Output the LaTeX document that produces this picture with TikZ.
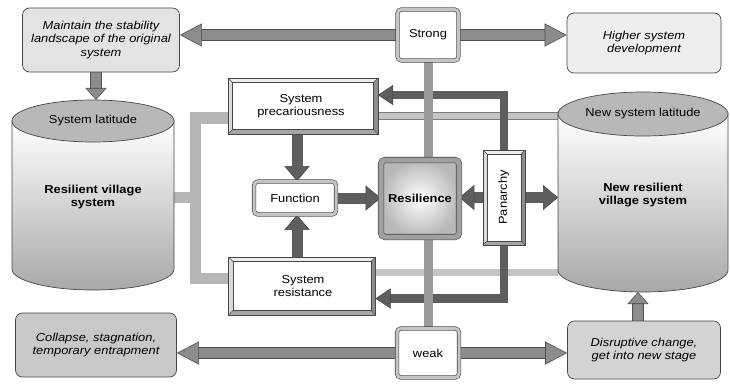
\documentclass[tikz,border=0pt]{standalone}
\usepackage{fontspec}
\setmainfont{Liberation Sans}[FakeStretch=1.12]
\usetikzlibrary{arrows.meta,calc}
\pgfdeclarelayer{background}
\pgfsetlayers{background,main}

\definecolor{edge}{HTML}{474747}
\definecolor{arrowmid}{HTML}{8C8C8C}
\definecolor{arrowedge}{HTML}{505050}
\definecolor{arrowdark}{HTML}{5E5E5E}
\definecolor{bandfill}{HTML}{C4C4C4}
\definecolor{bandedge}{HTML}{7C7C7C}
\definecolor{bracketgray}{HTML}{B6B6B6}
\definecolor{spinegray}{HTML}{9A9A9A}
\definecolor{capgray}{HTML}{B8B8B8}
\definecolor{cylbottom}{HTML}{A8A8A8}
\definecolor{ringgray}{HTML}{C4C4C4}
\definecolor{bevlight}{HTML}{EDEDED}
\definecolor{bevside}{HTML}{DADADA}
\definecolor{bevshade}{HTML}{8E8E8E}
\definecolor{bevbottom}{HTML}{A6A6A6}
\definecolor{maintfill}{HTML}{E3E3E3}
\definecolor{higherfill}{HTML}{EEEEEE}
\definecolor{collapsefill}{HTML}{C8C8C8}
\definecolor{disruptfill}{HTML}{D3D3D3}
\definecolor{resilframe}{HTML}{A0A0A0}
\definecolor{resilouter}{HTML}{B8B8B8}

% raised frame around a rectangular node: #1 node name, #2 bevel depth
\newcommand\drawbevel[2]{%
  \fill[bevlight] (#1.north west) -- (#1.north east) -- ($(#1.north east)+(-#2,#2)$) -- ($(#1.north west)+(#2,#2)$) -- cycle;
  \fill[bevside] (#1.north west) -- (#1.south west) -- ($(#1.south west)+(#2,-#2)$) -- ($(#1.north west)+(#2,#2)$) -- cycle;
  \fill[bevshade] (#1.north east) -- (#1.south east) -- ($(#1.south east)+(-#2,-#2)$) -- ($(#1.north east)+(-#2,#2)$) -- cycle;
  \fill[bevbottom] (#1.south west) -- (#1.south east) -- ($(#1.south east)+(-#2,-#2)$) -- ($(#1.south west)+(#2,-#2)$) -- cycle;
  \draw[edge, line width=0.6pt] (#1.north west) rectangle (#1.south east);
  \draw[edge, line width=0.5pt] ($(#1.north west)+(#2,#2)$) rectangle ($(#1.south east)+(-#2,-#2)$);
  \draw[edge, line width=0.4pt] (#1.north west) -- ++(#2,#2) (#1.north east) -- ++(-#2,#2)
    (#1.south east) -- ++(-#2,-#2) (#1.south west) -- ++(#2,-#2);
}

% upright cylinder filling the area of node #1: #2 x radius, #3 y radius of the end caps
\newcommand\drawcyl[3]{%
  \path[draw=edge, line width=0.7pt, top color=white, bottom color=cylbottom]
    ($(#1.north west)+(0,#3)$) -- ($(#1.south west)+(0,-#3)$)
    arc[start angle=180, end angle=360, x radius=#2pt, y radius=#3pt]
    -- ($(#1.north east)+(0,#3)$) -- cycle;
  \path[draw=edge, line width=0.7pt, fill=capgray] ($(#1.north)+(0,#3)$) ellipse[x radius=#2pt, y radius=#3pt];
}

\begin{document}
\begin{tikzpicture}[x=1pt, y=-1pt,
  font=\fontsize{11.5}{13.3}\selectfont,
  outcome/.style={draw=edge, line width=0.7pt, rounded corners=7pt, align=center,
    font=\fontsize{11.5}{13.3}\selectfont\itshape, inner sep=0pt},
  framebox/.style={draw=edge, line width=0.6pt, double=ringgray, double distance=3pt,
    fill=white, rounded corners=4pt, inner sep=0pt, align=center},
  bevelbox/.style={fill=white, inner sep=0pt, outer sep=0pt, align=center},
  cylarea/.style={inner sep=0pt, outer sep=0pt},
  bigarrow/.style={draw=arrowmid, line width=10pt,
    -{Triangle[length=22pt, width=23pt, fill=arrowmid, color=arrowedge, line width=0.6pt]},
    preaction={draw=arrowedge, line width=11.4pt, arrows=-, shorten >=20pt}},
  smallarrow/.style={draw=arrowmid, line width=10pt,
    -{Triangle[length=12pt, width=21pt, fill=arrowmid, color=arrowedge, line width=0.6pt]},
    preaction={draw=arrowedge, line width=11.4pt, arrows=-, shorten >=10pt}},
  darkarrow/.style={draw=arrowdark, line width=11pt,
    -{Triangle[length=15pt, width=25pt, fill=arrowdark, color=arrowdark!70!black, line width=0.5pt]}},
  elbowarrow/.style={draw=arrowdark, line width=8.5pt,
    -{Triangle[length=15pt, width=20pt, fill=arrowdark, color=arrowdark!70!black, line width=0.5pt]}},
  band/.style={draw=bandedge, line width=0.7pt, double=bandfill, double distance=6.5pt},
  bracket/.style={draw=bracketgray, line width=11pt},
  spine/.style={draw=spinegray, line width=9pt}
]
\useasboundingbox (0,0) rectangle (730,385);

% ---- cylinders ----
\node[cylarea, minimum width=162, minimum height=190] (lcyl) at (93,195) {};
\drawcyl{lcyl}{81}{21}
\node (lcap) at (93,121) {System latitude};
\node[font=\fontsize{11.5}{13.3}\selectfont\bfseries, align=center] (lbody) at (93,197) {Resilient village\\system};

\node[cylarea, minimum width=170, minimum height=200] (rcyl) at (643,192) {};
\drawcyl{rcyl}{85}{22}
\node (rcap) at (643,114) {New system latitude};
\node[font=\fontsize{11.5}{13.3}\selectfont\bfseries, align=center] (rbody) at (643,195) {New resilient\\village system};

% ---- outcome boxes ----
\node[outcome, fill=maintfill, minimum width=157, minimum height=64] (maint) at (101,40)
  {Maintain the stability\\landscape of the original\\system};
\node[outcome, fill=higherfill, minimum width=154, minimum height=60] (higher) at (644,43)
  {Higher system\\development};
\node[outcome, fill=collapsefill, minimum width=161, minimum height=64] (collapse) at (96,345)
  {Collapse, stagnation,\\temporary entrapment};
\node[outcome, fill=disruptfill, minimum width=153, minimum height=58] (disrupt) at (644,350)
  {Disruptive change,\\get into new stage};

% ---- strength switches ----
\node[framebox, minimum width=61, minimum height=51] (strong) at (428,35) {Strong};
\node[framebox, minimum width=62, minimum height=49] (weak) at (428,353) {weak};

% ---- inner mechanism ----
\node[bevelbox, minimum width=150, minimum height=56] (prec) at (303,106) {};
\drawbevel{prec}{4.5}
\node[align=center] (prectext) at (301,106) {System\\precariousness};

\node[bevelbox, minimum width=147, minimum height=58] (resist) at (302,286) {};
\drawbevel{resist}{4.5}
\node[align=center] (resisttext) at (303,286) {System\\resistance};

\node[bevelbox, minimum width=42, minimum height=95] (pan) at (504,197.5) {};
\drawbevel{pan}{4}
\node[rotate=90] (pantext) at (pan) {Panarchy};

\node[framebox, minimum width=82, minimum height=33] (func) at (295,198) {Function};

\node[draw=edge, line width=0.6pt, double=resilframe, double distance=5pt, rounded corners=4pt,
  inner color=white, outer color=resilouter, minimum width=78, minimum height=77,
  font=\fontsize{11.5}{13.3}\selectfont\bfseries] (resil) at (420,198.5) {Resilience};

% ---- connectors ----
\begin{pgfonlayer}{background}
  % light links from the two system properties
  \coordinate (bk) at (195,197.5);
  \draw[bracket] (lcyl.east |- bk) -- (bk);
  \draw[bracket] (prec.west |- 0,118) -| (bk) |- (resist.west |- 0,278);
  \draw[band] (prec.east |- 0,116) -- (rcyl.west |- 0,116);
  \draw[band] (resist.east |- 0,272.5) -- (rcyl.west |- 0,272.5);

  % feedback from panarchy
  \draw[elbowarrow] (pan.north) |- (prec.east |- 0,95);
  \draw[elbowarrow] (pan.south) |- (resist.east |- 0,298.5);

  % spine joining strong and weak
  \draw[spine] (strong) -- (weak);

  % outcome arrows
  \draw[bigarrow] (strong.west) -- (maint.east |- strong.west);
  \draw[bigarrow] (strong.east) -- (higher.west |- strong.east);
  \draw[bigarrow] (weak.west) -- (collapse.east |- weak.west);
  \draw[bigarrow] (weak.east) -- (disrupt.west |- weak.east);
  \draw[smallarrow] (maint.south -| 96,0) -- (96,100);
  \draw[smallarrow] (disrupt.south -| 638,0) ++(0,-58) -- (638,292);

  % mechanism arrows
  \draw[darkarrow] (prec.south -| 297,0) -- (func.north -| 297,0);
  \draw[darkarrow] (resist.north -| 297,0) -- (func.south -| 297,0);
  \draw[darkarrow] (func.east) -- (func.east -| resil.west);
  \draw[darkarrow] (pan.west) -- (pan.west -| resil.east);
  \draw[darkarrow] (pan.east) -- (pan.east -| rcyl.west);
\end{pgfonlayer}
\end{tikzpicture}
\end{document}
